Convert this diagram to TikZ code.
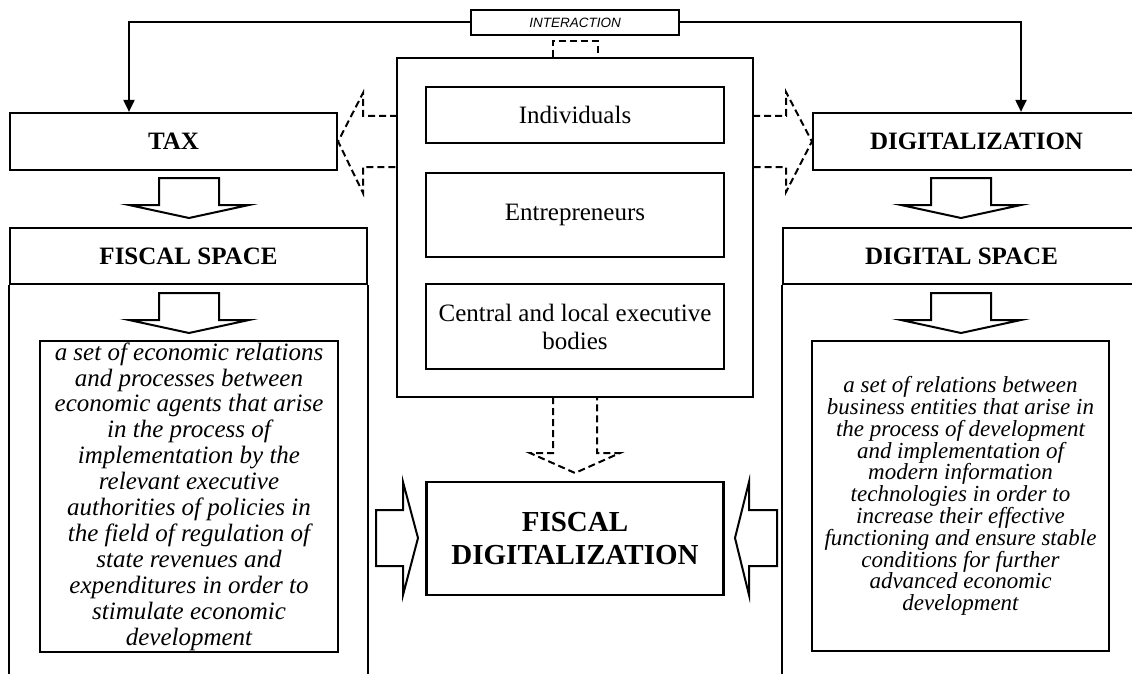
\documentclass[tikz,border=0pt]{standalone}
\usepackage{fontspec}
\setmainfont{Liberation Serif}
\newfontfamily\labelsans{Liberation Sans}
\usetikzlibrary{arrows.meta}

\begin{document}
\begin{tikzpicture}[x=1pt,y=-1pt,
  frame/.style={draw,line width=2.2pt,inner sep=0pt,align=center},
  head/.style={frame,font=\bfseries\fontsize{25}{28}\selectfont},
  plain/.style={frame,minimum width=298pt,font=\fontsize{25}{28}\selectfont},
  link/.style={line width=2pt,-{Triangle[length=12pt,width=11pt]}},
  dashlink/.style={line width=2pt,dash pattern=on 7pt off 4pt},
  hollow/.style={draw,line width=2pt,line join=miter}]
  \clip (0,0) rectangle (1132,674);

  \node[frame,minimum width=208pt,minimum height=25pt,font=\labelsans\itshape\fontsize{13.5}{15}\selectfont] (inter) at (575,22.5) {INTERACTION};
  \node[head,minimum width=327pt,minimum height=57pt] (tax) at (173.5,141.5) {TAX};
  \node[head,minimum width=327pt,minimum height=57pt] (digit) at (976.5,141.5) {DIGITALIZATION};
  \node[head,minimum width=357pt,minimum height=56pt] (fiscal) at (188.5,256) {FISCAL SPACE};
  \node[head,minimum width=357pt,minimum height=56pt] (digital) at (961.5,256) {DIGITAL SPACE};
  \draw[line width=2.2pt] (fiscal.south west) -- ++(0,420) (fiscal.south east) -- ++(0,420);
  \draw[line width=2.2pt] (digital.south west) -- ++(0,420) (digital.south east) -- ++(0,420);

  \node[frame,minimum width=356pt,minimum height=339pt] (central) at (575,227.5) {};
  \foreach \y/\h/\name/\txt in {115/56/indiv/Individuals,215/84/entre/Entrepreneurs,326.5/85/exec/{Central and local executive\\bodies}}
    \node[plain,minimum height=\h pt] (\name) at (575,\y) {\txt};
  \node[head,minimum width=297pt,minimum height=113pt,font=\bfseries\fontsize{29}{33}\selectfont] (fdig) at (575,538.5) {FISCAL\\DIGITALIZATION};

  \node[frame,minimum width=298pt,minimum height=311pt,font=\itshape\fontsize{25}{25.9}\selectfont] (fistext) at (189,496.5)
    {a set of economic relations\\and processes between\\economic agents that arise\\in the process of\\implementation by the\\relevant executive\\authorities of policies in\\the field of regulation of\\state revenues and\\expenditures in order to\\stimulate economic\\development};
  \node[frame,minimum width=297pt,minimum height=310pt,font=\itshape\fontsize{23}{21.8}\selectfont] (digtext) at (960.5,496)
    {a set of relations between\\business entities that arise in\\the process of development\\and implementation of\\modern information\\technologies in order to\\increase their effective\\functioning and ensure stable\\conditions for further\\advanced economic\\development};

  \draw[link] (inter.west) -| ([xshift=-44.5]tax.north);
  \draw[link] (inter.east) -| ([xshift=44.5]digit.north);

  \draw[dashlink] ([xshift=-22.5]central.north) -- ++(0,-16) -- ++(45,0) -- ++(0,16);
  \draw[dashlink] (397,116) -- (363,116) -- (363,93) -- (tax.east) -- (363,193) -- (363,167) -- (397,167);
  \draw[dashlink] (753,116) -- (786,116) -- (786,92) -- (digit.west) -- (786,192) -- (786,167) -- (753,167);
  \draw[dashlink] (553,397) -- (553,453) -- (530,453) -- (575,473) -- (620,453) -- (597,453) -- (597,397);

  \foreach \x/\y in {189/178,189/293,961/178,961/293}
    \draw[hollow] (\x-30,\y) -- ++(60,0) -- ++(0,27) -- ++(30,0) -- (\x,\y+40) -- (\x-60,\y+27) -- ++(30,0) -- cycle;
  \draw[hollow] (376,510) -- (403,510) -- (403,482) -- (418,538) -- (403,595) -- (403,566) -- (376,566) -- cycle;
  \draw[hollow] (777,510) -- (749,510) -- (749,482) -- (735,538) -- (749,595) -- (749,566) -- (777,566) -- cycle;
\end{tikzpicture}
\end{document}
